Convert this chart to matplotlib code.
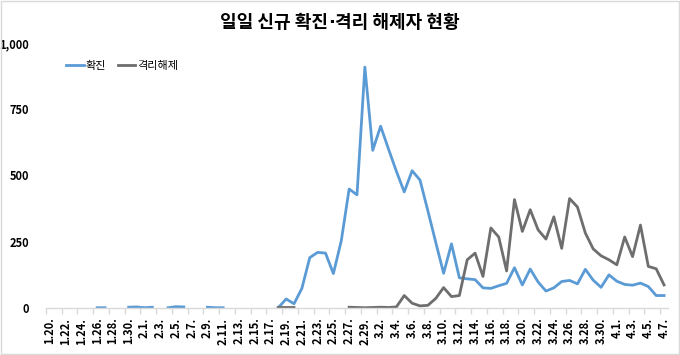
import numpy as np
import matplotlib
matplotlib.use("Agg")
import matplotlib.pyplot as plt
from matplotlib.patches import Rectangle

plt.rcParams['font.family'] = ['Noto Sans CJK KR', 'DejaVu Sans']

nan = np.nan

dates = ["1.20.", "1.21.", "1.22.", "1.23.", "1.24.", "1.25.", "1.26.", "1.27.", "1.28.", "1.29.",
         "1.30.", "1.31.", "2.1.", "2.2.", "2.3.", "2.4.", "2.5.", "2.6.", "2.7.", "2.8.",
         "2.9.", "2.10.", "2.11.", "2.12.", "2.13.", "2.14.", "2.15.", "2.16.", "2.17.", "2.18.",
         "2.19.", "2.20.", "2.21.", "2.22.", "2.23.", "2.24.", "2.25.", "2.26.", "2.27.", "2.28.",
         "2.29.", "3.1.", "3.2.", "3.3.", "3.4.", "3.5.", "3.6.", "3.7.", "3.8.", "3.9.",
         "3.10.", "3.11.", "3.12.", "3.13.", "3.14.", "3.15.", "3.16.", "3.17.", "3.18.", "3.19.",
         "3.20.", "3.21.", "3.22.", "3.23.", "3.24.", "3.25.", "3.26.", "3.27.", "3.28.", "3.29.",
         "3.30.", "3.31.", "4.1.", "4.2.", "4.3.", "4.4.", "4.5.", "4.6.", "4.7."]

confirmed = [1, nan, nan, nan, 1, nan, 1, 1, nan, nan,
             3, 4, 1, 3, nan, 1, 5, 4, nan, nan,
             3, 1, 1, nan, nan, nan, nan, nan, nan, 1,
             34, 16, 74, 190, 210, 207, 130, 253, 449, 427,
             909, 595, 686, 600, 516, 438, 518, 483, 367, 248,
             131, 242, 114, 110, 107, 76, 74, 84, 93, 152,
             87, 147, 98, 64, 76, 100, 104, 91, 146, 105,
             78, 125, 101, 89, 86, 94, 81, 47, 47]

released = [nan, nan, nan, nan, nan, nan, nan, nan, nan, nan,
            nan, nan, nan, nan, nan, nan, nan, nan, nan, nan,
            nan, nan, nan, nan, nan, nan, nan, nan, nan, 2,
            2, 2, nan, nan, nan, nan, nan, nan, 3, 2,
            1, 2, 3, 2, 4, 47, 18, 8, 10, 36,
            77, 43, 47, 182, 207, 119, 302, 268, 140, 409,
            289, 371, 295, 260, 344, 225, 413, 381, 283, 223,
            197, 182, 163, 268, 194, 313, 157, 148, 87]

yticks = [0, 250, 500, 750, 1000]
ytick_labels = ["0", "250", "500", "750", "1,000"]
title_parts = ["일일 신규 확진", "·", "격리 해제자 현황"]
series_names = ["확진", "격리해제"]

fig = plt.figure(figsize=(6.8, 3.55), dpi=100)
ax = fig.add_axes([46/680, 1 - 308/355, 622/680, 265/355])

x = np.arange(len(dates))
ax.plot(x, confirmed, color='#5B9BD5', lw=2, label=series_names[0], solid_joinstyle='round')
ax.plot(x, released, color='#6E6E6E', lw=2, label=series_names[1], solid_joinstyle='round')

ax.set_xlim(-0.5, len(dates) - 0.5)
ax.set_ylim(0, 1000)

ax.set_yticks(yticks)
ax.set_yticklabels(ytick_labels, fontsize=8, fontweight='bold', color='#000000')
ax.tick_params(axis='y', length=0, pad=12)

ax.set_xticks(x[::2])
ax.set_xticklabels(dates[::2], rotation=90, fontsize=8, fontweight='bold')
ax.set_xticks(np.arange(-0.5, len(dates), 2), minor=True)
ax.tick_params(axis='x', which='major', length=0, pad=7)
ax.tick_params(axis='x', which='minor', length=4, color='#D9D9D9', width=1)

for s in ['top', 'right', 'left']:
    ax.spines[s].set_visible(False)
ax.spines['bottom'].set_color('#D9D9D9')
ax.spines['bottom'].set_linewidth(1)

# title: three pieces so the middle dot stays narrow (DejaVu glyph)
ty = 1 - 23/355
fams = [['Noto Sans CJK KR'], ['DejaVu Sans'], ['Noto Sans CJK KR']]
texts = [fig.text(0, ty, p, ha='left', va='center', fontsize=13, fontweight='bold', family=f)
         for p, f in zip(title_parts, fams)]
renderer = fig.canvas.get_renderer()
widths = [t.get_window_extent(renderer).width / fig.bbox.width for t in texts]
x0 = 0.5 - sum(widths) / 2
for t, w in zip(texts, widths):
    t.set_x(x0)
    x0 += w

leg = ax.legend(loc='center left', bbox_to_anchor=(56/680, 1 - 66/355), bbox_transform=fig.transFigure,
                ncol=2, frameon=False, fontsize=8, handlelength=1.6, handletextpad=0.2,
                columnspacing=1.0)

fig.patches.append(Rectangle((0.001, 0.002), 0.997, 0.995, transform=fig.transFigure,
                             fill=False, edgecolor='#D9D9D9', lw=1))

fig.savefig("out.png", dpi=100)
